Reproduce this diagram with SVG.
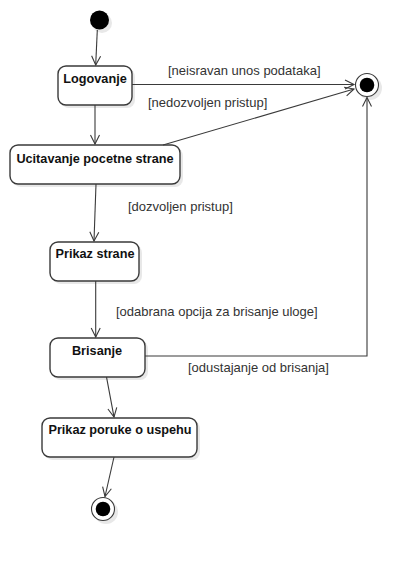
<svg xmlns="http://www.w3.org/2000/svg" width="419" height="563" viewBox="0 0 419 563">
<style>
.box{fill:#ffffff;stroke:#3a3a3a;stroke-width:1.4}
.shadow{fill:#e8e8e8;stroke:none}
.name{font-family:"Liberation Sans",Arial,sans-serif;font-size:12.7px;font-weight:bold;fill:#111;text-anchor:middle}
.lbl{font-family:"Liberation Sans",Arial,sans-serif;font-size:13px;fill:#333}
.edge{fill:none;stroke:#3a3a3a;stroke-width:1.1}
</style>
<defs>
<marker id="arr" markerUnits="userSpaceOnUse" markerWidth="14" markerHeight="14" viewBox="-10 -7 12 14" refX="0" refY="0" orient="auto">
<path d="M-9,-4.5 L0,0 L-9,4.5" fill="none" stroke="#3a3a3a" stroke-width="1.1"/>
</marker>
</defs>
<rect width="419" height="563" fill="#ffffff"/>

<g id="start">
<circle cx="102" cy="23" r="10" class="shadow"/>
<circle cx="99.5" cy="20" r="9.5" fill="#000"/>
</g>

<g id="logovanje">
<rect x="61" y="69" width="74" height="39" rx="8" class="shadow"/>
<rect x="58" y="66" width="74" height="39" rx="8" class="box"/>
<text x="95" y="83" class="name">Logovanje</text>
</g>

<g id="ucitavanje">
<rect x="13" y="148" width="170" height="39" rx="8" class="shadow"/>
<rect x="10" y="145" width="170" height="39" rx="8" class="box"/>
<text x="95" y="163" class="name">Ucitavanje pocetne strane</text>
</g>

<g id="prikaz-strane">
<rect x="53" y="245" width="89" height="39" rx="8" class="shadow"/>
<rect x="50" y="242" width="89" height="39" rx="8" class="box"/>
<text x="95" y="258" class="name">Prikaz strane</text>
</g>

<g id="brisanje">
<rect x="53" y="341" width="95" height="39" rx="8" class="shadow"/>
<rect x="50" y="338" width="95" height="39" rx="8" class="box"/>
<text x="97" y="355" class="name">Brisanje</text>
</g>

<g id="prikaz-poruke">
<rect x="45" y="421" width="155" height="39" rx="8" class="shadow"/>
<rect x="42" y="418" width="155" height="39" rx="8" class="box"/>
<text x="120" y="434" class="name">Prikaz poruke o uspehu</text>
</g>

<g id="end-top">
<circle cx="370" cy="88" r="12" class="shadow"/>
<circle cx="367" cy="85" r="11.5" fill="#fff" stroke="#3a3a3a" stroke-width="1.1"/>
<circle cx="367" cy="85" r="7.3" fill="#000"/>
</g>

<g id="end-bottom">
<circle cx="106" cy="512" r="12" class="shadow"/>
<circle cx="103" cy="509" r="11.5" fill="#fff" stroke="#3a3a3a" stroke-width="1.1"/>
<circle cx="103" cy="509" r="7.3" fill="#000"/>
</g>

<g id="connectors">
<path class="edge" d="M97.3,30 L95.7,65" marker-end="url(#arr)"/>
<path class="edge" d="M95,105 L95,144" marker-end="url(#arr)"/>
<path class="edge" d="M132,84.5 L354,84.5" marker-end="url(#arr)"/>
<path class="edge" d="M163,145 L354,89" marker-end="url(#arr)"/>
<path class="edge" d="M96,184 L94,241" marker-end="url(#arr)"/>
<path class="edge" d="M95.7,281 L95.7,337" marker-end="url(#arr)"/>
<path class="edge" d="M145,356 L367,356 L367,97.5" marker-end="url(#arr)"/>
<path class="edge" d="M106.5,377 L114,417" marker-end="url(#arr)"/>
<path class="edge" d="M114,457 L105,496.5" marker-end="url(#arr)"/>
</g>

<g id="labels">
<text x="168" y="75" class="lbl">[neisravan unos podataka]</text>
<text x="148" y="107" class="lbl">[nedozvoljen pristup]</text>
<text x="128" y="211" class="lbl">[dozvoljen pristup]</text>
<text x="116" y="316" class="lbl">[odabrana opcija za brisanje uloge]</text>
<text x="188" y="372" class="lbl">[odustajanje od brisanja]</text>
</g>
</svg>
